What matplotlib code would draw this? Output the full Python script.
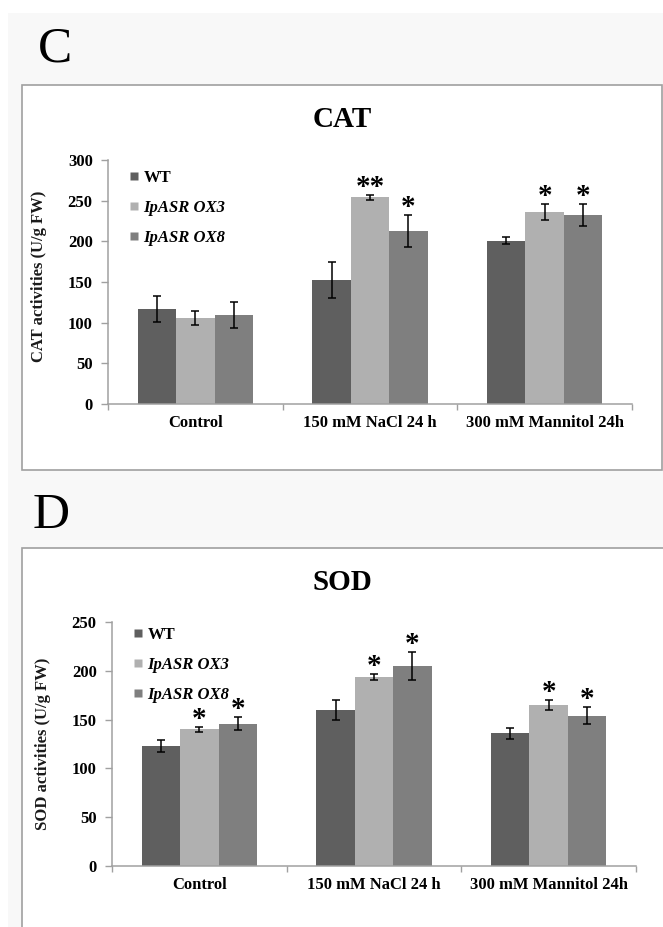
import matplotlib
matplotlib.use("Agg")
import matplotlib.pyplot as plt
from matplotlib.patches import Rectangle
from matplotlib.lines import Line2D
import numpy as np

plt.rcParams['font.family'] = ['Liberation Serif', 'DejaVu Serif']

# ---- data ----
categories = ["Control", "150 mM NaCl 24 h", "300 mM Mannitol 24h"]
series = ["WT", "IpASR OX3", "IpASR OX8"]

cat_wt = [117, 152, 201]
cat_ox3 = [106, 254, 236]
cat_ox8 = [110, 213, 232]
cat_wt_err = [16, 22, 4.5]
cat_ox3_err = [8.5, 3.5, 10]
cat_ox8_err = [16, 19.5, 13.5]
cat_stars_ox3 = ["", "**", "*"]
cat_stars_ox8 = ["", "*", "*"]

sod_wt = [123, 160, 136]
sod_ox3 = [140, 194, 165]
sod_ox8 = [146, 205, 154]
sod_wt_err = [6.5, 10, 5.5]
sod_ox3_err = [2.5, 3, 5]
sod_ox8_err = [6.5, 14, 8.5]
sod_stars_ox3 = ["*", "*", "*"]
sod_stars_ox8 = ["*", "*", "*"]

colors = ["#5f5f5f", "#b0b0b0", "#7f7f7f"]

W, H = 663, 927
fig = plt.figure(figsize=(W / 100, H / 100), dpi=100)


def px_rect(x0, y0, x1, y1, **kw):
    # rectangle given in pixel coords (top-left origin)
    r = Rectangle((x0 / W, 1 - y1 / H), (x1 - x0) / W, (y1 - y0) / H,
                  transform=fig.transFigure, **kw)
    fig.add_artist(r)


def px_axes(left, right, top, bottom):
    return fig.add_axes([left / W, 1 - bottom / H, (right - left) / W, (bottom - top) / H])


# page background and panel frames
px_rect(8, 13, 670, 940, facecolor="#f8f8f8", edgecolor="none", zorder=-3)
px_rect(22, 85, 662, 470, facecolor="white", edgecolor="#a0a0a0", lw=1.2, zorder=-2)
px_rect(22, 548, 680, 960, facecolor="white", edgecolor="#a0a0a0", lw=1.2, zorder=-2)

fig.text(38 / W, 1 - 62 / H, "C", fontsize=37, va="baseline", ha="left")
fig.text(33 / W, 1 - 528 / H, "D", fontsize=37, va="baseline", ha="left")


def draw_panel(ax, title, ylabel, ymax, vals, errs, stars, title_y, label_y, leg_top):
    x = np.arange(len(categories))
    w = 0.22
    offs = [-w, 0, w]
    for i in range(3):
        ax.bar(x + offs[i], vals[i], width=w, color=colors[i], edgecolor="none", zorder=2)
        ax.errorbar(x + offs[i], vals[i], yerr=errs[i], fmt="none", ecolor="black",
                    elinewidth=1.1, capsize=3, capthick=1.1, zorder=3)
    for i in (1, 2):
        for j in range(len(categories)):
            s = stars[i - 1][j]
            if s:
                ax.annotate(s, (x[j] + offs[i], vals[i][j] + errs[i][j]),
                            xytext=(0, 0), textcoords="offset points",
                            ha="center", va="baseline", fontsize=21, fontweight="bold", zorder=4)

    ax.set_xlim(-0.5, 2.5)
    ax.set_ylim(0, ymax)
    ax.set_yticks(np.arange(0, ymax + 1, 50))
    ax.set_xticks([-0.5, 0.5, 1.5, 2.5])
    ax.set_xticklabels([])
    ax.set_xticks(x, minor=True)
    ax.set_xticklabels(categories, minor=True, fontsize=12, fontweight="bold")
    ax.tick_params(axis="x", which="minor", length=0, pad=8)
    ax.tick_params(axis="x", which="major", length=4, direction="out", color="#a0a0a0", width=1)
    ax.tick_params(axis="y", length=5, direction="out", color="#a0a0a0", width=1, pad=6,
                   labelsize=12)
    for lab in ax.get_yticklabels():
        lab.set_fontweight("bold")
    for sp in ("top", "right"):
        ax.spines[sp].set_visible(False)
    for sp in ("left", "bottom"):
        ax.spines[sp].set_color("#a0a0a0")
        ax.spines[sp].set_linewidth(1.1)
    ax.patch.set_alpha(0)

    ax.set_ylabel(ylabel, fontsize=12, fontweight="bold", color="#1a1a1a")
    ax.yaxis.set_label_coords(-0.116, label_y)

    fig.text(342 / W, 1 - title_y / H, title, fontsize=21, fontweight="bold",
             ha="center", va="baseline")

    handles = [Line2D([], [], marker="s", linestyle="none", markersize=6,
                      markerfacecolor=c, markeredgecolor="none") for c in colors]
    leg = ax.legend(handles, series, loc="upper left", bbox_to_anchor=(0.025, leg_top),
                    frameon=False, handlelength=0.6, handletextpad=0.25, labelspacing=0.85,
                    borderpad=0, prop={"size": 12, "weight": "bold"})
    for t in leg.get_texts()[1:]:
        t.set_fontstyle("italic")


ax1 = px_axes(108, 632, 160, 404)
draw_panel(ax1, "CAT", "CAT activities (U/g FW)", 300,
           [cat_wt, cat_ox3, cat_ox8],
           [cat_wt_err, cat_ox3_err, cat_ox8_err],
           [cat_stars_ox3, cat_stars_ox8], 127, 0.525, 0.995)

ax2 = px_axes(112, 636, 622, 866)
draw_panel(ax2, "SOD", "SOD activities (U/g FW)", 250,
           [sod_wt, sod_ox3, sod_ox8],
           [sod_wt_err, sod_ox3_err, sod_ox8_err],
           [sod_stars_ox3, sod_stars_ox8], 590, 0.5, 1.015)

plt.savefig("out.png", dpi=100)
